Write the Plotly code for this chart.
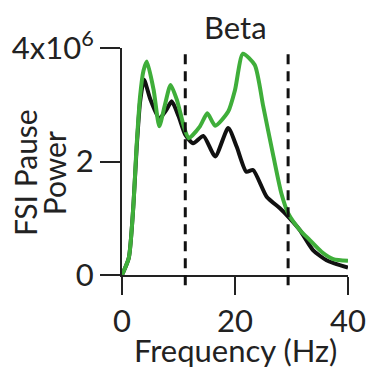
import plotly.graph_objects as go

# Frequency (Hz) and power values
black_freq = [0, 1.2, 2.0, 2.6, 3.2, 3.9, 5.0, 6.6, 7.8, 8.8, 10.0, 11.2, 12.6, 14.4, 16.5, 18.8, 20.3, 22.0, 23.2, 25.6, 27.9, 29.4, 31.5, 33.8, 36.2, 40]
black_power = [0, 0.3e6, 1.2e6, 2.25e6, 3.05e6, 3.44e6, 3.1e6, 2.76e6, 2.9e6, 3.06e6, 2.8e6, 2.47e6, 2.32e6, 2.45e6, 2.09e6, 2.59e6, 2.26e6, 1.82e6, 1.85e6, 1.38e6, 1.18e6, 1.03e6, 0.79e6, 0.44e6, 0.26e6, 0.13e6]

green_freq = [0, 1.2, 2.0, 2.6, 3.2, 3.8, 4.4, 5.6, 6.6, 7.6, 8.6, 9.7, 11.0, 11.8, 13.8, 15.1, 16.5, 18.8, 20.0, 21.4, 23.5, 25.0, 26.8, 28.2, 29.4, 31.5, 33.2, 35.3, 37.4, 40]
green_power = [0, 0.3e6, 1.2e6, 2.3e6, 3.15e6, 3.6e6, 3.76e6, 3.26e6, 2.62e6, 3.0e6, 3.35e6, 3.09e6, 2.6e6, 2.41e6, 2.62e6, 2.85e6, 2.63e6, 2.88e6, 3.26e6, 3.9e6, 3.7e6, 2.97e6, 2.09e6, 1.44e6, 1.09e6, 0.79e6, 0.62e6, 0.41e6, 0.28e6, 0.25e6]

beta_band = [11.2, 29.4]
x_ticks = [0, 20, 40]
y_ticks = [0, 2e6, 4e6]
y_tick_text = ["0", "2", "4x10<sup>6</sup>"]

FONT = "Lato"
FS = 31

fig = go.Figure()
fig.add_trace(go.Scatter(x=black_freq, y=black_power, mode="lines",
                         line=dict(color="#111111", width=4, shape="spline", smoothing=0.6)))
fig.add_trace(go.Scatter(x=green_freq, y=green_power, mode="lines",
                         line=dict(color="#3fae3a", width=4, shape="spline", smoothing=0.6)))

for b in beta_band:
    fig.add_shape(type="line", xref="x", yref="paper", x0=b, x1=b, y0=-0.045, y1=1.0,
                  line=dict(color="#111111", width=3, dash="10px,7px"))

fig.update_layout(
    width=366, height=369,
    margin=dict(l=122, r=18, t=48, b=94, autoexpand=False),
    paper_bgcolor="white", plot_bgcolor="white",
    showlegend=False,
    font=dict(family=FONT, size=FS, color="#222222"),
    xaxis=dict(range=[0, 40], tickvals=x_ticks, ticktext=[str(v) for v in x_ticks],
               automargin=False,
               showgrid=False, zeroline=False, showline=True, linecolor="#222222", linewidth=2,
               ticks="outside", ticklen=18, tickwidth=2, tickcolor="#222222",
               tickfont=dict(family=FONT, size=FS)),
    yaxis=dict(range=[0, 4e6], tickvals=y_ticks, ticktext=y_tick_text,
               automargin=False,
               showgrid=False, zeroline=False, showline=True, linecolor="#222222", linewidth=2,
               ticks="outside", ticklen=20, tickwidth=2, tickcolor="#222222",
               tickfont=dict(family=FONT, size=FS)),
)

fig.add_annotation(text="Beta", xref="paper", yref="paper", x=0.504, y=1.093,
                   xanchor="center", yanchor="middle", showarrow=False,
                   font=dict(family=FONT, size=FS))
fig.add_annotation(text="Frequency (Hz)", xref="paper", yref="paper", x=0.5, y=-0.33,
                   xanchor="center", yanchor="middle", showarrow=False,
                   font=dict(family=FONT, size=FS))
fig.add_annotation(text="FSI Pause", xref="paper", yref="paper", x=-0.429, y=0.449,
                   xanchor="center", yanchor="middle", textangle=-90, showarrow=False,
                   font=dict(family=FONT, size=FS - 1))
fig.add_annotation(text="Power", xref="paper", yref="paper", x=-0.30, y=0.449,
                   xanchor="center", yanchor="middle", textangle=-90, showarrow=False,
                   font=dict(family=FONT, size=FS - 1))

fig.write_html("out.html",
               config={"displayModeBar": False},
               post_script="document.body.style.margin='0';document.body.style.overflow='hidden';")
